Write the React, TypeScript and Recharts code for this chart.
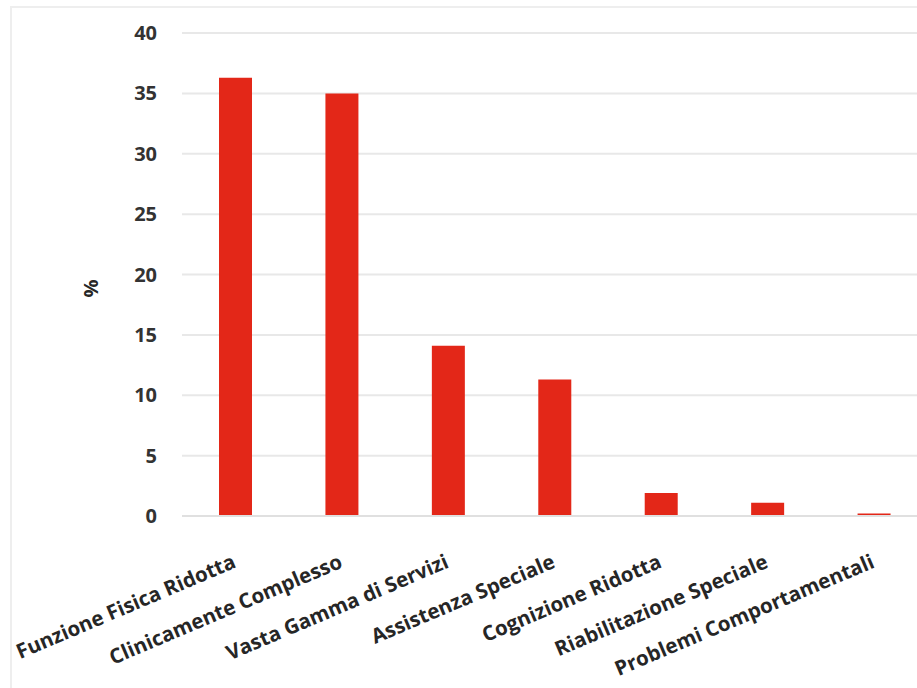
import { BarChart, Bar, XAxis, YAxis, CartesianGrid } from "recharts"

const categories = [
  "Funzione Fisica Ridotta",
  "Clinicamente Complesso",
  "Vasta Gamma di Servizi",
  "Assistenza Speciale",
  "Cognizione Ridotta",
  "Riabilitazione Speciale",
  "Problemi Comportamentali",
]
const percentages = [36.3, 35.0, 14.1, 11.3, 1.9, 1.1, 0.2]
const yTicks = [0, 5, 10, 15, 20, 25, 30, 35, 40]

const data = categories.map((name, i) => ({ name, value: percentages[i] }))

const font = "'Open Sans', sans-serif"

function AngledTick(props: any) {
  const { x, y, payload } = props
  return (
    <text
      x={x + 2}
      y={y + 43}
      textAnchor="end"
      transform={`rotate(-23, ${x + 2}, ${y + 43})`}
      fill="#262626"
      fontSize={20.5}
      fontWeight={700}
      fontFamily={font}
    >
      {payload.value}
    </text>
  )
}

export default function App() {
  return (
    <div style={{ position: "fixed", left: 0, top: 0, width: 917, height: 688, overflow: "hidden", background: "#fff" }}>
      <div style={{ position: "absolute", left: 10, top: 6, width: 940, height: 700, border: "2px solid #eeeeee", boxSizing: "border-box" }} />
      <div style={{ position: "absolute", left: 0, top: 0 }}>
        <BarChart width={935} height={688} data={data} margin={{ top: 33, right: 8, bottom: 0, left: 0 }}>
          <CartesianGrid vertical={false} stroke="#e8e8e8" strokeWidth={2} />
          <XAxis
            dataKey="name"
            interval={0}
            height={172}
            axisLine={{ stroke: "#e0e0e0", strokeWidth: 2 }}
            tickLine={false}
            tick={<AngledTick />}
          />
          <YAxis
            width={182}
            domain={[0, 40]}
            ticks={yTicks}
            axisLine={false}
            tickLine={false}
            tickSize={0}
            tickMargin={25}
            tick={{ fill: "#333333", fontSize: 20, fontWeight: 700, fontFamily: font }}
            label={{ value: "%", angle: -90, position: "center", dy: 14, fill: "#262626", fontSize: 20, fontWeight: 700, fontFamily: font }}
          />
          <Bar dataKey="value" fill="#E32718" barSize={33} isAnimationActive={false} />
        </BarChart>
      </div>
    </div>
  )
}
